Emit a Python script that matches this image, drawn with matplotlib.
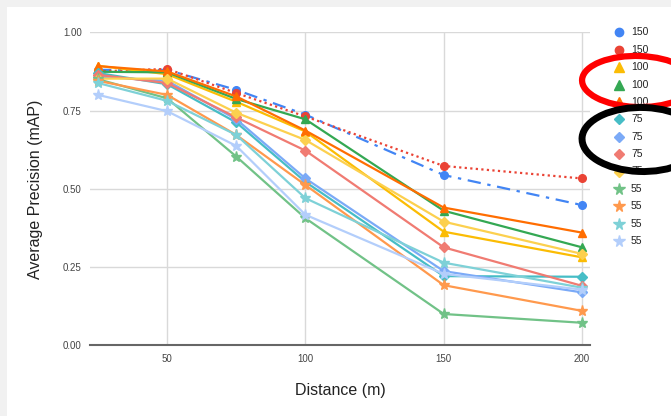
import matplotlib
matplotlib.use('Agg')
from matplotlib import pyplot as plt
from matplotlib.lines import Line2D
from matplotlib.patches import Ellipse, Rectangle

plt.rcParams['font.family'] = ['Liberation Sans', 'DejaVu Sans']

distance = [25, 50, 75, 100, 150, 200]

blue_150 = [0.880, 0.880, 0.816, 0.737, 0.544, 0.448]
red_150 = [0.875, 0.883, 0.806, 0.731, 0.573, 0.533]
yellow_100 = [0.893, 0.866, 0.778, 0.683, 0.363, 0.281]
green_100 = [0.874, 0.872, 0.787, 0.722, 0.430, 0.313]
orange_100 = [0.892, 0.875, 0.795, 0.686, 0.440, 0.360]
teal_75 = [0.870, 0.834, 0.712, 0.522, 0.221, 0.219]
blue_75 = [0.858, 0.845, 0.722, 0.533, 0.237, 0.169]
salmon_75 = [0.864, 0.838, 0.728, 0.622, 0.313, 0.190]
lyellow_75 = [0.852, 0.852, 0.743, 0.656, 0.395, 0.292]
green_55 = [0.850, 0.789, 0.603, 0.406, 0.100, 0.072]
orange_55 = [0.845, 0.800, 0.672, 0.512, 0.192, 0.110]
teal_55 = [0.838, 0.781, 0.672, 0.470, 0.264, 0.184]
lblue_55 = [0.800, 0.748, 0.637, 0.417, 0.228, 0.178]

labels = ['150', '150', '100', '100', '100', '75', '75', '75', '75',
          '55', '55', '55', '55']
series = [blue_150, red_150, yellow_100, green_100, orange_100, teal_75,
          blue_75, salmon_75, lyellow_75, green_55, orange_55, teal_55, lblue_55]
colors = ['#4285F4', '#EA4335', '#FBBC04', '#34A853', '#FF6D01', '#46BDC6',
          '#7BAAF7', '#F07B72', '#FCD04F', '#71C287', '#FF994D', '#7ED1D7', '#B3CEFB']
markers = ['o', 'o', '^', '^', '^', 'D', 'D', 'D', 'D', '*', '*', '*', '*']
styles = [(0, (6, 3, 1.5, 3)), (0, (1, 1.5))] + ['-'] * 11
msizes = {'o': 5.5, '^': 6, 'D': 5, '*': 8}

fig = plt.figure(figsize=(6.71, 4.16), dpi=100)
fig.patch.set_facecolor('#f1f1f1')
# white card, grey frame only on top and left
fig.add_artist(Rectangle((7 / 671, 0), 1, 1 - 7 / 416,
                         transform=fig.transFigure, facecolor='white',
                         edgecolor='none', zorder=0))

ax = fig.add_axes([90 / 671, 1 - 345.3 / 416, 500 / 671, 313 / 416])
ax.set_facecolor('none')

for vals, c, m, ls in zip(series, colors, markers, styles):
    ax.plot(distance, vals, color=c, marker=m, markersize=msizes[m],
            linestyle=ls, linewidth=1.6, clip_on=False)

ax.set_xlim(22.1, 202.9)
ax.set_ylim(0, 1)
ax.set_xticks([50, 100, 150, 200])
ax.set_yticks([0, 0.25, 0.5, 0.75, 1.0])
ax.set_yticklabels(['0.00', '0.25', '0.50', '0.75', '1.00'])
ax.grid(True, color='#d9d9d9', linewidth=1)
ax.set_axisbelow(True)
for s in ['top', 'right', 'left']:
    ax.spines[s].set_visible(False)
ax.spines['bottom'].set_color('#666666')
ax.spines['bottom'].set_linewidth(1.5)
ax.tick_params(length=0, labelsize=7, colors='#444444', pad=6)

fig.text(36 / 671, 1 - 189 / 416, 'Average Precision (mAP)', rotation=90,
         ha='center', va='center', fontsize=11.5, color='#222222')
fig.text(340 / 671, 1 - 390 / 416, 'Distance (m)', ha='center', va='center',
         fontsize=11.5, color='#222222')

# legend, markers only
for i, (lab, c, m) in enumerate(zip(labels, colors, markers)):
    y = 1 - (32.3 + 17.4 * i) / 416
    fig.add_artist(Line2D([619 / 671], [y], marker=m, color=c,
                          markersize=msizes[m] + 0.5, linestyle='none',
                          transform=fig.transFigure))
    fig.text(631 / 671, y, lab, ha='left', va='center', fontsize=7.5,
             color='#222222')

# hand drawn highlight rings
fig.add_artist(Ellipse((638 / 671, 1 - 81.5 / 416), 112 / 671, 51 / 416,
                       angle=-4, transform=fig.transFigure, fill=False,
                       edgecolor='#ff0000', linewidth=4.5, zorder=5))
fig.add_artist(Ellipse((642 / 671, 1 - 139.5 / 416), 120 / 671, 64 / 416,
                       angle=-4, transform=fig.transFigure, fill=False,
                       edgecolor='#000000', linewidth=5, zorder=5))

fig.savefig('out.png', dpi=100)
